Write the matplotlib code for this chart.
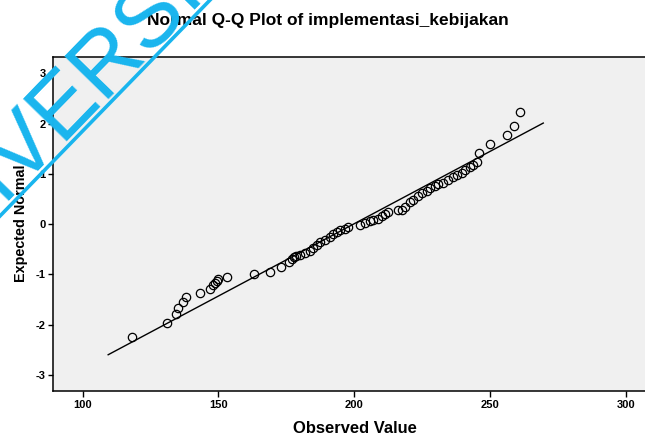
import matplotlib
matplotlib.use('Agg')
import matplotlib.pyplot as plt
from matplotlib.lines import Line2D
import numpy as np

plt.rcParams['font.family'] = ['Liberation Sans', 'DejaVu Sans']
plt.rcParams['axes.unicode_minus'] = False

observed = [118.0, 131.1, 134.2, 135.0, 136.8, 138.0, 143.2, 146.9, 148.1, 148.7,
            149.3, 149.9, 153.0, 163.1, 169.0, 173.0, 176.1, 177.0, 177.8, 178.5,
            180.0, 181.8, 183.7, 184.9, 186.2, 187.4, 189.2, 191.1, 192.3, 193.5,
            194.7, 196.6, 197.8, 202.1, 203.9, 205.8, 207.0, 208.8, 210.1, 211.3,
            212.5, 216.2, 217.5, 218.7, 220.5, 221.7, 223.6, 224.8, 226.7, 227.9,
            229.7, 230.9, 232.8, 234.6, 236.5, 237.7, 239.5, 240.8, 242.6, 243.8,
            245.1, 246.0, 250.0, 256.1, 258.8, 261.0]
expected = [-2.24, -1.96, -1.79, -1.66, -1.54, -1.45, -1.37, -1.30, -1.21, -1.17,
            -1.13, -1.10, -1.05, -0.99, -0.95, -0.86, -0.75, -0.70, -0.65, -0.64,
            -0.62, -0.58, -0.53, -0.48, -0.42, -0.35, -0.32, -0.26, -0.20, -0.15,
            -0.12, -0.09, -0.05, -0.02, 0.03, 0.06, 0.08, 0.11, 0.16, 0.21,
            0.24, 0.28, 0.29, 0.34, 0.44, 0.49, 0.56, 0.61, 0.66, 0.71,
            0.76, 0.80, 0.82, 0.87, 0.94, 0.97, 1.02, 1.07, 1.14, 1.17,
            1.24, 1.41, 1.59, 1.78, 1.95, 2.23]

# reference line (normal fit)
line_mean = 199.7
line_sd = 34.75
line_x = [109.4, 269.6]

x_ticks = [100, 150, 200, 250, 300]
y_ticks = [-3, -2, -1, 0, 1, 2, 3]

W, H = 645, 437
fig = plt.figure(figsize=(W / 100, H / 100), dpi=100)
fig.patch.set_facecolor('white')

ax = fig.add_axes([53.3 / W, 1 - 391 / H, 1 - 53.3 / W, (391 - 57.3) / H])
ax.set_facecolor('#f0f0f0')

lx = np.array(line_x)
ax.plot(lx, (lx - line_mean) / line_sd, color='black', lw=1.0)
ax.plot(observed, expected, linestyle='none', marker='o', markersize=6,
        markerfacecolor='none', markeredgecolor='black', markeredgewidth=0.9)

ax.set_xlim(89.2, 89.2 + (W - 53.3) / 2.716)
ax.set_ylim(-3.32, 3.32)
ax.set_xticks(x_ticks)
ax.set_yticks(y_ticks)
ax.set_xticklabels([str(t) for t in x_ticks], fontsize=8, fontweight='bold')
ax.set_yticklabels([str(t) for t in y_ticks], fontsize=8, fontweight='bold')
ax.tick_params(axis='x', length=4.3, width=1, pad=2.5)
ax.tick_params(axis='y', length=3.6, width=1, pad=2)
for s in ['left', 'bottom', 'top']:
    ax.spines[s].set_linewidth(1.1)
ax.spines['right'].set_visible(False)

fig.text(327.7 / W, 1 - 25 / H, 'Normal Q-Q Plot of implementasi_kebijakan',
         ha='center', va='baseline', fontsize=12.5, fontweight='bold')
fig.text(354.7 / W, 1 - 433.3 / H, 'Observed Value',
         ha='center', va='baseline', fontsize=11.9, fontweight='bold')
fig.text(21.5 / W, 1 - 223.5 / H, 'Expected Normal', rotation=90,
         ha='center', va='center', fontsize=10.4, fontweight='bold')

# watermark
wm = '#19b5ee'
ang = 45.8
back = 153.3  # width of the clipped leading letters, px
fig.text((19.4 - back * np.cos(np.radians(ang))) / W,
         1 - (183.2 + back * np.sin(np.radians(ang))) / H,
         'UNIVERSITAS', rotation=ang, rotation_mode='anchor',
         ha='left', va='baseline', fontsize=64, color=wm, zorder=10)
k = np.tan(np.radians(ang))
fig.add_artist(Line2D([-20 / W, 230 / W],
                      [1 - (216 + 20 * k) / H, 1 - (216 - 230 * k) / H],
                      color=wm, lw=2.6, zorder=10))

fig.savefig('out.png', dpi=100)
